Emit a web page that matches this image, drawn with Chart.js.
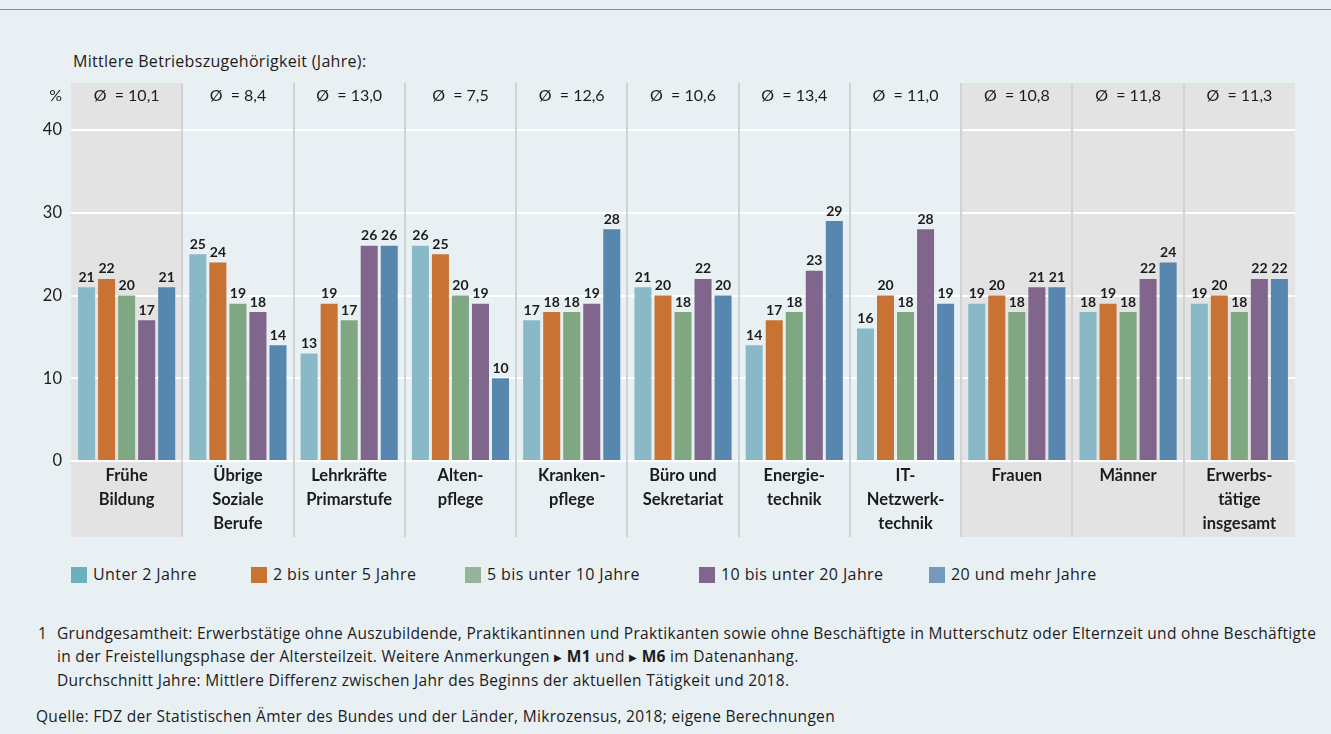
<!DOCTYPE html>
<html lang="de">
<head>
<meta charset="utf-8">
<title>Mittlere Betriebszugehörigkeit</title>
<script src="https://cdn.jsdelivr.net/npm/chart.js@4.4.1/dist/chart.umd.min.js"></script>
<style>
  html, body { margin: 0; padding: 0; }
  body {
    width: 1331px; height: 734px; position: relative; overflow: hidden;
    background: #e9f0f3; color: #1c1c1c;
    font-family: "Open Sans", "Noto Sans", sans-serif;
  }
  #topline { position: absolute; left: 0; top: 9px; width: 1331px; height: 1px; background: #8d8f90; }
  #subtitle { position: absolute; left: 73px; top: 51px; font-size: 16px; line-height: 20px; letter-spacing: 0.3px; white-space: nowrap; }
  #wrap { position: absolute; left: 0; top: 0; width: 1331px; height: 560px; }
  .lg { position: absolute; top: 567px; height: 16px; font-size: 16px; line-height: 16px; letter-spacing: 0.4px; white-space: nowrap; }
  .lg i { position: absolute; left: 0; top: 0; width: 16px; height: 16px; }
  .lg span { position: absolute; left: 22px; top: -1px; }
  .note { position: absolute; font-size: 15.5px; line-height: 20px; letter-spacing: 0.3px; white-space: nowrap; }
  .note .tri { font-size: 10px; position: relative; top: -1px; }
</style>
</head>
<body>
<div id="topline"></div>
<div id="subtitle">Mittlere Betriebszugehörigkeit (Jahre):</div>
<div id="wrap"><canvas id="chart"></canvas></div>
<div id="legend"></div>

<div class="note" style="left:38px;top:623px;">1</div>
<div class="note" style="left:57px;top:623px;">Grundgesamtheit: Erwerbstätige ohne Auszubildende, Praktikantinnen und Praktikanten sowie ohne Beschäftigte in Mutterschutz oder Elternzeit und ohne Beschäftigte</div>
<div class="note" style="left:57px;top:646px;">in der Freistellungsphase der Altersteilzeit. Weitere Anmerkungen <span class="tri">&#9654;</span> <b>M1</b> und <span class="tri">&#9654;</span> <b>M6</b> im Datenanhang.</div>
<div class="note" style="left:57px;top:670px;">Durchschnitt Jahre: Mittlere Differenz zwischen Jahr des Beginns der aktuellen Tätigkeit und 2018.</div>
<div class="note" style="left:36px;top:706px;">Quelle: FDZ der Statistischen Ämter des Bundes und der Länder, Mikrozensus, 2018; eigene Berechnungen</div>

<script>
// Kategorien (mehrzeilige Achsenbeschriftung)
const categories = [
  ['Frühe', 'Bildung'],
  ['Übrige', 'Soziale', 'Berufe'],
  ['Lehrkräfte', 'Primarstufe'],
  ['Alten-', 'pflege'],
  ['Kranken-', 'pflege'],
  ['Büro und', 'Sekretariat'],
  ['Energie-', 'technik'],
  ['IT-', 'Netzwerk-', 'technik'],
  ['Frauen'],
  ['Männer'],
  ['Erwerbs-', 'tätige', 'insgesamt']
];

// Anteile in %
const unter2    = [21, 25, 13, 26, 17, 21, 14, 16, 19, 18, 19];
const von2bis5  = [22, 24, 19, 25, 18, 20, 17, 20, 20, 19, 20];
const von5bis10 = [20, 19, 17, 20, 18, 18, 18, 18, 18, 18, 18];
const von10bis20= [17, 18, 26, 19, 19, 22, 23, 28, 21, 22, 22];
const ab20      = [21, 14, 26, 10, 28, 20, 29, 19, 21, 24, 22];

// Mittlere Betriebszugehörigkeit je Kategorie
const averages = ['10,1', '8,4', '13,0', '7,5', '12,6', '10,6', '13,4', '11,0', '10,8', '11,8', '11,3'];
// grau hinterlegte Spalten
const shadedCols = [0, 8, 9, 10];

const yTicks = [0, 10, 20, 30, 40];

const seriesNames  = ['Unter 2 Jahre', '2 bis unter 5 Jahre', '5 bis unter 10 Jahre', '10 bis unter 20 Jahre', '20 und mehr Jahre'];
const seriesData   = [unter2, von2bis5, von5bis10, von10bis20, ab20];
const barColors    = ['#89b9c7', '#c87334', '#7fa782', '#80668d', '#5787ae'];
const legendColors = ['#6cafbd', '#c87334', '#93b49a', '#80668d', '#7699bb'];
const legendX      = [71, 251, 465, 699, 929];

const FONT = 'Lato, "Noto Sans", sans-serif';
const TEXT = '#1c1c1c';

// Legende als HTML
const lg = document.getElementById('legend');
seriesNames.forEach((name, i) => {
  const d = document.createElement('div');
  d.className = 'lg';
  d.style.left = legendX[i] + 'px';
  d.innerHTML = '<i style="background:' + legendColors[i] + '"></i><span>' + name + '</span>';
  lg.appendChild(d);
});

// Spaltenhintergrund, Trennlinien, Ø-Werte, Datenbeschriftung
const columnDecor = {
  id: 'columnDecor',
  beforeDraw(chart) {
    const { ctx, chartArea: a, scales: { x } } = chart;
    const w = a.width / categories.length;
    ctx.save();
    ctx.fillStyle = '#e3e3e3';
    shadedCols.forEach(i => {
      const c = x.getPixelForValue(i);
      ctx.fillRect(c - w / 2, a.top - 47, w, a.bottom - a.top + 47 + 76);
    });
    ctx.restore();
  },
  beforeDatasetsDraw(chart) {
    const { ctx, chartArea: a, scales: { x } } = chart;
    const w = a.width / categories.length;
    ctx.save();
    ctx.strokeStyle = '#cfd3d5';
    ctx.lineWidth = 2;
    for (let i = 1; i < categories.length; i++) {
      const sx = Math.round(x.getPixelForValue(i) - w / 2);
      ctx.beginPath();
      ctx.moveTo(sx, a.top - 47);
      ctx.lineTo(sx, a.bottom + 76);
      ctx.stroke();
    }
    // Ø-Zeile + Einheit
    ctx.fillStyle = TEXT;
    ctx.font = '16px ' + FONT;
    ctx.textBaseline = 'middle';
    ctx.textAlign = 'center';
    averages.forEach((v, i) => {
      ctx.fillText('Ø  = ' + v, x.getPixelForValue(i), a.top - 34);
    });
    ctx.textAlign = 'right';
    ctx.fillText('%', a.left - 9, a.top - 34);
    ctx.restore();
  },
  afterDatasetsDraw(chart) {
    const { ctx } = chart;
    ctx.save();
    ctx.fillStyle = TEXT;
    ctx.font = 'bold 14px ' + FONT;
    ctx.textAlign = 'center';
    ctx.textBaseline = 'bottom';
    chart.data.datasets.forEach((ds, di) => {
      chart.getDatasetMeta(di).data.forEach((bar, i) => {
        ctx.fillText(String(ds.data[i]), bar.x, bar.y - 3);
      });
    });
    ctx.restore();
  }
};

new Chart(document.getElementById('chart'), {
  type: 'bar',
  data: {
    labels: categories,
    datasets: seriesNames.map((name, i) => ({
      label: name,
      data: seriesData[i],
      backgroundColor: barColors[i],
      borderWidth: 0,
      categoryPercentage: 0.9,
      barPercentage: 0.85
    }))
  },
  options: {
    responsive: true,
    maintainAspectRatio: false,
    animation: false,
    layout: { padding: { top: 130, right: 36, left: 0, bottom: 0 } },
    plugins: { legend: { display: false }, tooltip: { enabled: false } },
    scales: {
      x: {
        grid: { display: false, drawTicks: false },
        border: { display: false },
        ticks: {
          color: TEXT, autoSkip: false, maxRotation: 0, padding: 3,
          font: { family: FONT, size: 16.5, weight: 'bold', lineHeight: '24px' }
        },
        afterFit(scale) { scale.height = 99; }
      },
      y: {
        min: 0, max: 40,
        afterBuildTicks(scale) { scale.ticks = yTicks.map(v => ({ value: v })); },
        grid: { color: '#ffffff', lineWidth: 2, drawTicks: false },
        border: { display: false },
        ticks: { color: TEXT, padding: 9, font: { family: FONT, size: 16.5 } },
        afterFit(scale) { scale.width = 71; }
      }
    }
  },
  plugins: [columnDecor]
});
</script>
</body>
</html>
